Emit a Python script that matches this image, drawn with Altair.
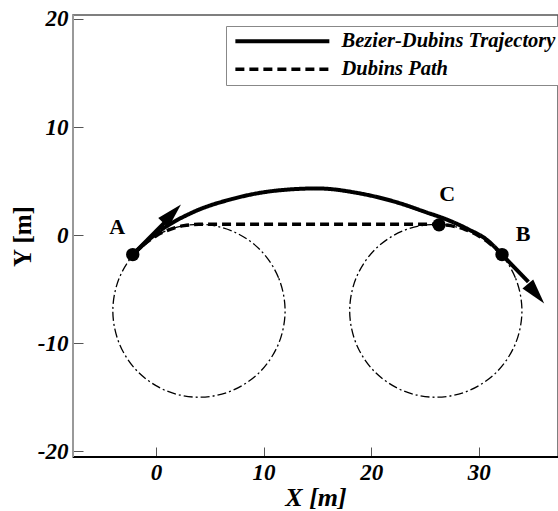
import altair as alt
import pandas as pd

# ---------------- data ----------------
# Bezier-Dubins trajectory (solid)
traj_x = [-2.15, 0.3, 3.4, 7.1, 11.0, 15.0, 19.0, 22.5, 25.0, 27.0, 29.0, 30.7, 32.15]
traj_y = [-1.8, 0.35, 2.1, 3.35, 4.1, 4.32, 3.85, 3.0, 2.15, 1.45, 0.55, -0.4, -1.8]

# Dubins path (dashed)
dubins_x = [-2.15, -1.14, 0.0, 1.26, 2.61, 4.0, 26.0, 27.39, 28.74, 30.0, 31.14, 32.15]
dubins_y = [-1.8, -0.87, -0.07, 0.52, 0.88, 1.0, 1.0, 0.88, 0.52, -0.07, -0.87, -1.8]

# turning circles (dash-dot)
circle_left_x = [12.0, 11.39, 9.66, 7.06, 4.0, 0.94, -1.66, -3.39, -4.0, -3.39, -1.66, 0.94, 4.0, 7.06, 9.66, 11.39]
circle_left_y = [-7.0, -3.94, -1.34, 0.39, 1.0, 0.39, -1.34, -3.94, -7.0, -10.06, -12.66, -14.39, -15.0, -14.39, -12.66, -10.06]
circle_right_x = [34.0, 33.39, 31.66, 29.06, 26.0, 22.94, 20.34, 18.61, 18.0, 18.61, 20.34, 22.94, 26.0, 29.06, 31.66, 33.39]
circle_right_y = [-7.0, -3.94, -1.34, 0.39, 1.0, 0.39, -1.34, -3.94, -7.0, -10.06, -12.66, -14.39, -15.0, -14.39, -12.66, -10.06]

# heading arrows
arrow_x0 = [-2.15, 32.15]
arrow_y0 = [-1.8, -1.8]
arrow_x1 = [0.8, 34.6]
arrow_y1 = [1.15, -4.32]
arrow_tip_x = [2.33, 36.07]
arrow_tip_y = [2.84, -6.33]
arrow_angle = [44, 140]

# marked points and their letters
pt_name = ["A", "B", "C"]
pt_x = [-2.15, 32.15, 26.3]
pt_y = [-1.8, -1.8, 0.95]
lab_x = [-3.6, 34.1, 27.05]
lab_y = [0.74, 0.1, 3.8]

series_names = ["Bezier-Dubins Trajectory", "Dubins Path"]
x_ticks = [0, 10, 20, 30]
y_ticks = [-20, -10, 0, 10, 20]
X_DOM = [-7.7, 37.35]
Y_DOM = [-20.53, 20.37]

# ---------------- tables ----------------
paths = pd.DataFrame(
    [{"series": series_names[0], "k": i, "x": a, "y": b} for i, (a, b) in enumerate(zip(traj_x, traj_y))]
    + [{"series": series_names[1], "k": i, "x": a, "y": b} for i, (a, b) in enumerate(zip(dubins_x, dubins_y))]
)
circles = pd.DataFrame(
    [{"c": "L", "k": i, "x": a, "y": b} for i, (a, b) in enumerate(zip(circle_left_x, circle_left_y))]
    + [{"c": "R", "k": i, "x": a, "y": b} for i, (a, b) in enumerate(zip(circle_right_x, circle_right_y))]
)
arrows = pd.DataFrame({"x": arrow_x0, "y": arrow_y0, "x2": arrow_x1, "y2": arrow_y1,
                       "tx": arrow_tip_x, "ty": arrow_tip_y, "ang": arrow_angle})
points = pd.DataFrame({"name": pt_name, "x": pt_x, "y": pt_y, "lx": lab_x, "ly": lab_y})

FONT = "Liberation Serif"
W, H = 485, 442

xs = alt.Scale(domain=X_DOM, nice=False, zero=False)
ys = alt.Scale(domain=Y_DOM, nice=False, zero=False)

x_axis = alt.Axis(values=x_ticks, title="X [m]", offset=-10, tickSize=10, domain=False, grid=False,
                  labelExpr="'' + datum.value",
                  labelPadding=4, labelFont=FONT, labelFontSize=23, labelFontWeight="bold",
                  labelFontStyle="italic", labelColor="black", tickColor="#555", tickWidth=1,
                  titleFont=FONT, titleFontSize=26, titleFontWeight="bold", titleFontStyle="italic",
                  titleColor="black", titlePadding=0, labelFlush=False)
y_axis = alt.Axis(values=y_ticks, title="Y [m]", offset=-10, tickSize=10, domain=False, grid=False,
                  labelExpr="'' + datum.value",
                  labelPadding=5, labelFont=FONT, labelFontSize=23, labelFontWeight="bold",
                  labelFontStyle="italic", labelColor="black", tickColor="#555", tickWidth=1,
                  titleFont=FONT, titleFontSize=25, titleFontWeight="bold", titleColor="black",
                  titlePadding=2, labelFlush=False)

base_x = alt.X("x:Q", scale=xs, axis=x_axis)
base_y = alt.Y("y:Q", scale=ys, axis=y_axis)

circ = alt.Chart(circles).mark_line(interpolate="cardinal-closed", strokeWidth=1.3,
                                    strokeDash=[9, 3, 2, 3], color="black").encode(
    x=base_x, y=base_y, detail="c:N", order="k:Q")

legend = alt.Legend(title=None, orient="none", legendX=153, legendY=11,
                    symbolType="M-1,0H15", symbolSize=138, symbolStrokeWidth=4,
                    symbolStrokeColor="black", symbolFillColor="transparent",
                    labelFont=FONT, labelFontSize=20.5, labelFontWeight="bold", labelFontStyle="italic",
                    labelColor="black", labelOffset=90, rowPadding=7, padding=5,
                    strokeColor="#888", fillColor="white", labelLimit=400)

lines = alt.Chart(paths).mark_line(interpolate="monotone", color="black").encode(
    x=base_x, y=base_y, order="k:Q",
    strokeDash=alt.StrokeDash("series:N", scale=alt.Scale(domain=series_names, range=[[1, 0], [9, 5]]),
                              legend=legend),
    strokeWidth=alt.StrokeWidth("series:N", scale=alt.Scale(domain=series_names, range=[4, 3.5]),
                                legend=None),
)

shafts = alt.Chart(arrows).mark_rule(color="black", strokeWidth=4).encode(
    x="x:Q", y="y:Q", x2="x2:Q", y2="y2:Q")

heads = alt.Chart(arrows).mark_point(shape="M0,0L0.55,2L-0.55,2Z", filled=True, color="black",
                                     opacity=1, size=650).encode(
    x="tx:Q", y="ty:Q", angle=alt.Angle("ang:Q", scale=None))

dots = alt.Chart(points).mark_circle(size=180, color="black", opacity=1).encode(x="x:Q", y="y:Q")

letters = alt.Chart(points).mark_text(font=FONT, fontSize=22, fontWeight="bold", color="black").encode(
    x="lx:Q", y="ly:Q", text="name:N")

frame_df = pd.DataFrame({"a": [0]})
bottom = alt.Chart(frame_df).mark_rule(color="black", strokeWidth=2).encode(
    x=alt.datum(X_DOM[0]), x2=alt.datum(X_DOM[1]), y=alt.datum(Y_DOM[0]))
left = alt.Chart(frame_df).mark_rule(color="#999", strokeWidth=2).encode(
    x=alt.datum(X_DOM[0]), y=alt.datum(Y_DOM[0]), y2=alt.datum(Y_DOM[1]))

chart = alt.layer(circ, lines, shafts, heads, dots, letters, bottom, left).properties(
    width=W, height=H,
    autosize=alt.AutoSizeParams(type="none"),
    padding={"left": 73, "top": 15, "right": 0, "bottom": 54},
    background="white",
).configure_view(stroke="#555", strokeWidth=1.5)

chart.save("out.html", embed_options={"renderer": "svg", "actions": False})
